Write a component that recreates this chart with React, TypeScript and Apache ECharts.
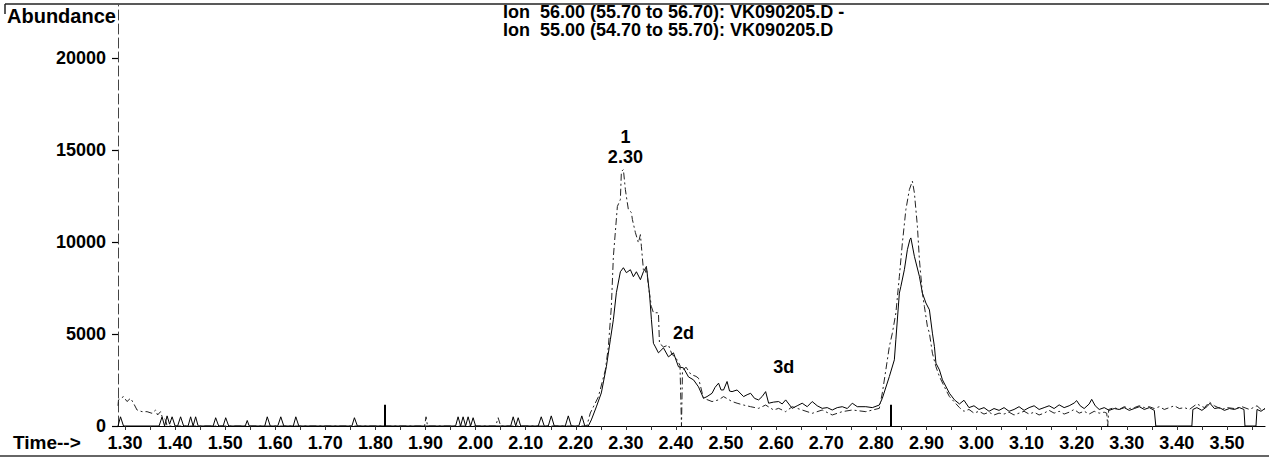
import React, { useEffect, useRef } from "react";
import * as echarts from "echarts";

// ---- data ----
const timeTickLabels = [1.3, 1.4, 1.5, 1.6, 1.7, 1.8, 1.9, 2.0, 2.1, 2.2, 2.3, 2.4, 2.5, 2.6, 2.7, 2.8, 2.9, 3.0, 3.1, 3.2, 3.3, 3.4, 3.5];
const abundanceTicks = [0, 5000, 10000, 15000, 20000];
const timeMin = 1.286;
const timeMax = 3.576;
const abundanceMax = 22900;

// Ion 56.00 trace (solid)
const ion56Trace: [number, number][] = [
  [1.286, 0], [1.291, 500], [1.297, 0], [1.368, 0], [1.374, 500], [1.379, 0], [1.384, 550], [1.389, 100], [1.394, 500], [1.4, 0],
  [1.405, 0], [1.411, 500], [1.417, 0], [1.426, 0], [1.431, 500], [1.436, 0], [1.441, 500], [1.446, 0], [1.476, 0], [1.481, 450],
  [1.487, 0], [1.496, 0], [1.501, 450], [1.507, 0], [1.54, 0], [1.544, 300], [1.548, 0], [1.579, 0], [1.584, 500], [1.59, 0],
  [1.605, 0], [1.611, 500], [1.617, 0], [1.636, 0], [1.641, 500], [1.647, 0], [1.753, 0], [1.758, 450], [1.764, 0], [1.96, 0],
  [1.965, 500], [1.97, 0], [1.975, 500], [1.98, 0], [1.985, 500], [1.99, 0], [1.995, 450], [2.0, 0], [2.07, 0], [2.075, 500],
  [2.08, 0], [2.085, 450], [2.09, 0], [2.125, 0], [2.131, 500], [2.137, 0], [2.145, 0], [2.151, 550], [2.157, 0], [2.179, 0],
  [2.185, 550], [2.191, 0], [2.206, 0], [2.212, 550], [2.218, 0], [2.225, 0],
  [2.231, 330], [2.241, 1040], [2.251, 1800], [2.261, 3220], [2.269, 4690], [2.275, 5780], [2.281, 7250], [2.289, 8390], [2.295, 8610],
  [2.301, 8340], [2.309, 8500], [2.315, 8120], [2.321, 8390], [2.329, 7960], [2.335, 8390], [2.341, 8670], [2.347, 7250], [2.351, 5780],
  [2.355, 4500], [2.359, 4300], [2.365, 3980], [2.375, 4250], [2.385, 3760], [2.395, 3980], [2.405, 3220], [2.415, 3160], [2.425, 2670],
  [2.435, 2510], [2.445, 2130], [2.455, 1510], [2.462, 1600], [2.472, 1780], [2.478, 2100], [2.485, 2330], [2.49, 1960], [2.495, 1960],
  [2.502, 2420], [2.507, 1900], [2.512, 1870], [2.522, 1960], [2.535, 1600], [2.542, 1700], [2.549, 1780], [2.557, 1500], [2.565, 1420],
  [2.572, 1600], [2.579, 1870], [2.585, 1240], [2.595, 1300], [2.605, 1330], [2.612, 1200], [2.619, 1420], [2.632, 960], [2.642, 1100],
  [2.652, 1240], [2.662, 1050], [2.672, 1330], [2.682, 1100], [2.692, 960], [2.702, 1000], [2.712, 870], [2.722, 1000], [2.732, 1050],
  [2.742, 950], [2.752, 1240], [2.762, 1050], [2.779, 1050], [2.792, 1000], [2.806, 1140],
  [2.812, 1510], [2.826, 2690], [2.836, 3600], [2.839, 4690], [2.846, 7230], [2.849, 7590], [2.856, 8500], [2.862, 9590], [2.867, 10140],
  [2.869, 10230], [2.876, 9230], [2.886, 8140], [2.892, 7230], [2.899, 6690], [2.906, 6320], [2.912, 5050], [2.916, 4320], [2.919, 3420],
  [2.926, 3050], [2.932, 2510], [2.946, 1780], [2.956, 1420],
  [2.966, 1200], [2.975, 1400], [2.985, 1000], [2.995, 1100], [3.005, 900], [3.015, 1000], [3.025, 800], [3.035, 950], [3.045, 850],
  [3.055, 1000], [3.065, 800], [3.075, 900], [3.085, 1050], [3.095, 850], [3.105, 1000], [3.115, 1100], [3.125, 900], [3.135, 1000],
  [3.145, 1100], [3.155, 950], [3.165, 1150], [3.175, 1000], [3.185, 1100], [3.195, 1250], [3.2, 1380], [3.207, 1100], [3.215, 950],
  [3.225, 1200], [3.23, 1450], [3.237, 1100], [3.245, 900], [3.255, 1000], [3.265, 850], [3.275, 950], [3.285, 900], [3.295, 1000],
  [3.305, 850], [3.315, 950], [3.325, 1050], [3.335, 900], [3.345, 1000], [3.355, 850], [3.358, 0], [3.43, 0], [3.432, 900], [3.44, 1000],
  [3.45, 850], [3.46, 1050], [3.466, 1240], [3.475, 950], [3.485, 1000], [3.495, 850], [3.505, 950], [3.515, 900], [3.525, 1000],
  [3.534, 900], [3.536, 0], [3.558, 0], [3.56, 900], [3.568, 800], [3.576, 950],
];

// Ion 55.00 trace (dash-dot)
const ion55Trace: [number, number][] = [
  [1.286, 1100], [1.287, 1420], [1.297, 1600], [1.304, 1330], [1.311, 1510], [1.317, 1240], [1.324, 870], [1.334, 780], [1.344, 780],
  [1.354, 690], [1.361, 870], [1.365, 600], [1.371, 780], [1.374, 510], [1.381, 330], [1.384, 0], [1.898, 0], [1.901, 500], [1.904, 0],
  [2.04, 0], [2.045, 450], [2.05, 0], [2.222, 0],
  [2.229, 710], [2.245, 1580], [2.259, 3050], [2.265, 4300], [2.271, 6490], [2.275, 9210], [2.283, 11940], [2.289, 12320], [2.291, 13840],
  [2.295, 13950], [2.299, 12860], [2.301, 12480], [2.305, 11770], [2.311, 11610], [2.313, 11230], [2.319, 10520], [2.325, 9970],
  [2.329, 10410], [2.331, 9760], [2.335, 8500], [2.339, 8340], [2.341, 8670], [2.345, 7580], [2.349, 6870], [2.351, 6490], [2.355, 6160],
  [2.365, 6160], [2.367, 4500], [2.375, 4300], [2.385, 4400], [2.392, 3900], [2.4, 3700], [2.408, 3300], [2.411, 0], [2.413, 3000],
  [2.42, 3200], [2.43, 2800], [2.44, 2700], [2.445, 2600], [2.455, 1510], [2.472, 1330], [2.485, 1420], [2.495, 1600], [2.512, 1330],
  [2.522, 1240], [2.535, 1140], [2.549, 1050], [2.565, 960], [2.579, 1140], [2.595, 870], [2.605, 960], [2.619, 780], [2.632, 1050],
  [2.652, 870], [2.672, 690], [2.692, 870], [2.712, 600], [2.732, 780], [2.752, 870], [2.779, 780], [2.806, 960],
  [2.812, 1800], [2.819, 3050], [2.826, 4320], [2.832, 5050], [2.839, 6140], [2.846, 8140], [2.852, 9950], [2.859, 11770], [2.866, 12860],
  [2.872, 13320], [2.876, 12680], [2.879, 11770], [2.882, 10870], [2.886, 9050], [2.892, 7230], [2.896, 6500], [2.902, 5410], [2.906, 5050],
  [2.912, 3960], [2.919, 3230], [2.926, 2690], [2.939, 1960], [2.946, 1600],
  [2.956, 1300], [2.966, 1000], [2.975, 800], [2.985, 900], [2.995, 700], [3.005, 800], [3.015, 650], [3.025, 750], [3.035, 600],
  [3.045, 700], [3.055, 650], [3.065, 750], [3.075, 600], [3.085, 700], [3.095, 800], [3.105, 650], [3.115, 750], [3.125, 600],
  [3.135, 700], [3.145, 850], [3.155, 700], [3.165, 800], [3.175, 650], [3.185, 750], [3.195, 900], [3.205, 700], [3.215, 800],
  [3.225, 650], [3.235, 800], [3.245, 700], [3.255, 750], [3.26, 700], [3.262, 0], [3.264, 900], [3.275, 1000], [3.285, 900],
  [3.295, 1050], [3.305, 950], [3.315, 1000], [3.325, 1100], [3.335, 1000], [3.345, 1050], [3.355, 950], [3.365, 1050], [3.375, 900],
  [3.385, 1000], [3.395, 1100], [3.405, 950], [3.415, 1000], [3.425, 900], [3.44, 1200], [3.455, 1000], [3.465, 1300], [3.475, 1100],
  [3.49, 900], [3.5, 1000], [3.515, 950], [3.53, 1050], [3.545, 900], [3.56, 1100], [3.57, 850], [3.576, 950],
];

const integrationMarks = [1.819, 2.828];
const integrationMarkHeight = 1150;
const peakLabels = [
  { text: "1\n2.30", time: 2.299, abundance: 15200 },
  { text: "2d", time: 2.415, abundance: 5070 },
  { text: "3d", time: 2.615, abundance: 3220 },
];
const legendLines = [
  "Ion  56.00 (55.70 to 56.70): VK090205.D -",
  "Ion  55.00 (54.70 to 55.70): VK090205.D",
];

const FONT = "'Liberation Sans', Arial, Helvetica, sans-serif";

export default function App() {
  const ref = useRef<HTMLDivElement>(null);

  useEffect(() => {
    if (!ref.current) return;
    const chart = echarts.init(ref.current, undefined, { renderer: "svg" });

    const tickValues: number[] = [];
    timeTickLabels.forEach((v) => {
      tickValues.push(v);
      tickValues.push(Math.round((v + 0.05) * 100) / 100);
    });

    const textStyle = (size: number) => ({
      fontFamily: FONT,
      fontWeight: "bold" as const,
      fontSize: size,
      color: "#000",
    });

    chart.setOption({
      animation: false,
      backgroundColor: "#fff",
      grid: { left: 118, right: 4, top: 5, bottom: 33, containLabel: false },
      xAxis: {
        type: "value",
        min: timeMin,
        max: timeMax,
        axisLine: { show: true, onZero: false, lineStyle: { color: "#000", width: 1.2 } },
        axisTick: { show: true, length: 4, customValues: tickValues, lineStyle: { color: "#333", width: 1 } },
        axisLabel: {
          show: true,
          customValues: timeTickLabels,
          formatter: (v: number) => v.toFixed(2),
          margin: 8,
          ...textStyle(18),
        },
        splitLine: { show: false },
      },
      yAxis: {
        type: "value",
        min: 0,
        max: abundanceMax,
        axisLine: { show: true, lineStyle: { color: "#444", width: 1, type: [10, 4] } },
        axisTick: { show: true, length: 6, customValues: abundanceTicks, lineStyle: { color: "#000", width: 1.2 } },
        axisLabel: {
          show: true,
          customValues: abundanceTicks,
          formatter: (v: number) => String(Math.round(v)),
          margin: 12,
          ...textStyle(18),
        },
        splitLine: { show: false },
      },
      series: [
        {
          name: legendLines[0],
          type: "line",
          data: ion56Trace,
          symbol: "none",
          showSymbol: false,
          lineStyle: { color: "#000", width: 1 },
          markLine: {
            silent: true,
            symbol: ["none", "none"],
            label: { show: false },
            lineStyle: { color: "#000", width: 2, type: "solid" },
            data: integrationMarks.map((t) => [
              { coord: [t, 0] },
              { coord: [t, integrationMarkHeight] },
            ]),
          },
        },
        {
          name: legendLines[1],
          type: "line",
          data: ion55Trace,
          symbol: "none",
          showSymbol: false,
          lineStyle: { color: "#222", width: 1, type: [7, 3, 2, 3] },
          markPoint: {
            silent: true,
            symbol: "circle",
            symbolSize: 0,
            label: {
              show: true,
              position: "inside",
              lineHeight: 20,
              ...textStyle(18),
            },
            data: peakLabels.map((p) => ({
              coord: [p.time, p.abundance],
              value: p.text,
              label: { formatter: p.text },
            })),
          },
        },
      ],
      graphic: [
        { type: "line", shape: { x1: 5, y1: 4, x2: 1269, y2: 4 }, style: { stroke: "#222", lineWidth: 1.5 }, silent: true },
        { type: "line", shape: { x1: 5, y1: 4, x2: 5, y2: 14 }, style: { stroke: "#222", lineWidth: 1.5 }, silent: true },
        { type: "line", shape: { x1: 0, y1: 456, x2: 1269, y2: 456 }, style: { stroke: "#333", lineWidth: 1.5 }, silent: true },
        {
          type: "text",
          x: 7,
          y: 16,
          style: { text: "Abundance", fill: "#000", font: `bold 20px ${FONT}`, textAlign: "left", textVerticalAlign: "middle" },
          silent: true,
        },
        {
          type: "text",
          x: 13,
          y: 442,
          style: { text: "Time-->", fill: "#000", font: `bold 19px ${FONT}`, textAlign: "left", textVerticalAlign: "middle" },
          silent: true,
        },
        ...legendLines.map((line, i) => ({
          type: "text",
          x: 503,
          y: 12 + i * 18,
          style: { text: line, fill: "#000", font: `bold 18px ${FONT}`, textAlign: "left", textVerticalAlign: "middle" },
          silent: true,
        })),
      ],
    });

    return () => chart.dispose();
  }, []);

  return (
    <div
      ref={ref}
      style={{ position: "absolute", left: 0, top: 0, width: 1269, height: 459, background: "#fff" }}
    />
  );
}
